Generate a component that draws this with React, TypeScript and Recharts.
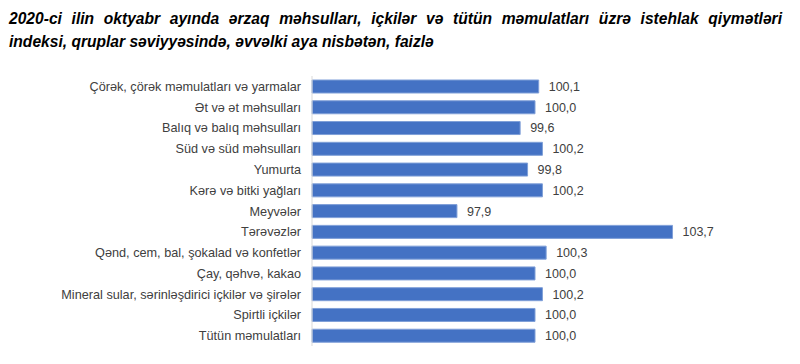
import { BarChart, Bar, XAxis, YAxis, LabelList } from 'recharts';

const categories = [
    'Çörək, çörək məmulatları  və yarmalar',
    'Ət və ət məhsulları',
    'Balıq və balıq məhsulları',
    'Süd və süd məhsulları',
    'Yumurta',
    'Kərə və bitki yağları',
    'Meyvələr',
    'Tərəvəzlər',
    'Qənd, cem, bal, şokalad və konfetlər',
    'Çay, qəhvə, kakao',
    'Mineral sular, sərinləşdirici içkilər və şirələr',
    'Spirtli içkilər',
    'Tütün məmulatları',
];

const values = [100.1, 100.0, 99.6, 100.2, 99.8, 100.2, 97.9, 103.7, 100.3, 100.0, 100.2, 100.0, 100.0];

const titleLines = [
    '2020-ci ilin oktyabr ayında ərzaq məhsulları, içkilər və tütün məmulatları üzrə istehlak qiymətləri',
    'indeksi, qruplar səviyyəsində, əvvəlki aya nisbətən, faizlə',
];

const data = categories.map((name, i) => ({ name, value: values[i] }));

const fmt = (v: any) => Number(v).toFixed(1).replace('.', ',');

const font = '"Liberation Sans", Arial, sans-serif';

export default function App() {
    return (
        <div
            style={{
                position: 'absolute',
                left: 0,
                top: 0,
                width: 800,
                height: 364,
                background: '#fff',
                fontFamily: font,
            }}
        >
            {titleLines.map((t, i) => (
                <div
                    key={i}
                    style={{
                        position: 'absolute',
                        left: 9,
                        top: 7 + i * 23,
                        width: i === 0 ? 773 : 'auto',
                        fontSize: 15.6,
                        lineHeight: '23px',
                        fontWeight: 'bold',
                        fontStyle: 'italic',
                        color: '#000',
                        whiteSpace: 'nowrap',
                        textAlign: 'justify',
                        textAlignLast: i === 0 ? 'justify' : 'left',
                    }}
                >
                    {t}
                </div>
            ))}
            <BarChart
                width={800}
                height={364}
                data={data}
                layout="vertical"
                margin={{ top: 76, right: 42, bottom: 18, left: 0 }}
            >
                <XAxis type="number" domain={[94, 106]} hide />
                <YAxis
                    type="category"
                    dataKey="name"
                    width={312}
                    interval={0}
                    tickLine={false}
                    tickSize={0}
                    tickMargin={11}
                    axisLine={{ stroke: '#d9d9d9' }}
                    tick={{ fontSize: 12.7, fill: '#404040', fontFamily: font }}
                />
                <Bar
                    dataKey="value"
                    fill="#4472c4"
                    stroke="#7f9fd8"
                    strokeWidth={1}
                    barSize={13}
                    isAnimationActive={false}
                >
                    <LabelList
                        dataKey="value"
                        position="right"
                        offset={10}
                        formatter={fmt}
                        style={{ fontSize: 12.5, fill: '#404040', fontFamily: font }}
                    />
                </Bar>
            </BarChart>
        </div>
    );
}
